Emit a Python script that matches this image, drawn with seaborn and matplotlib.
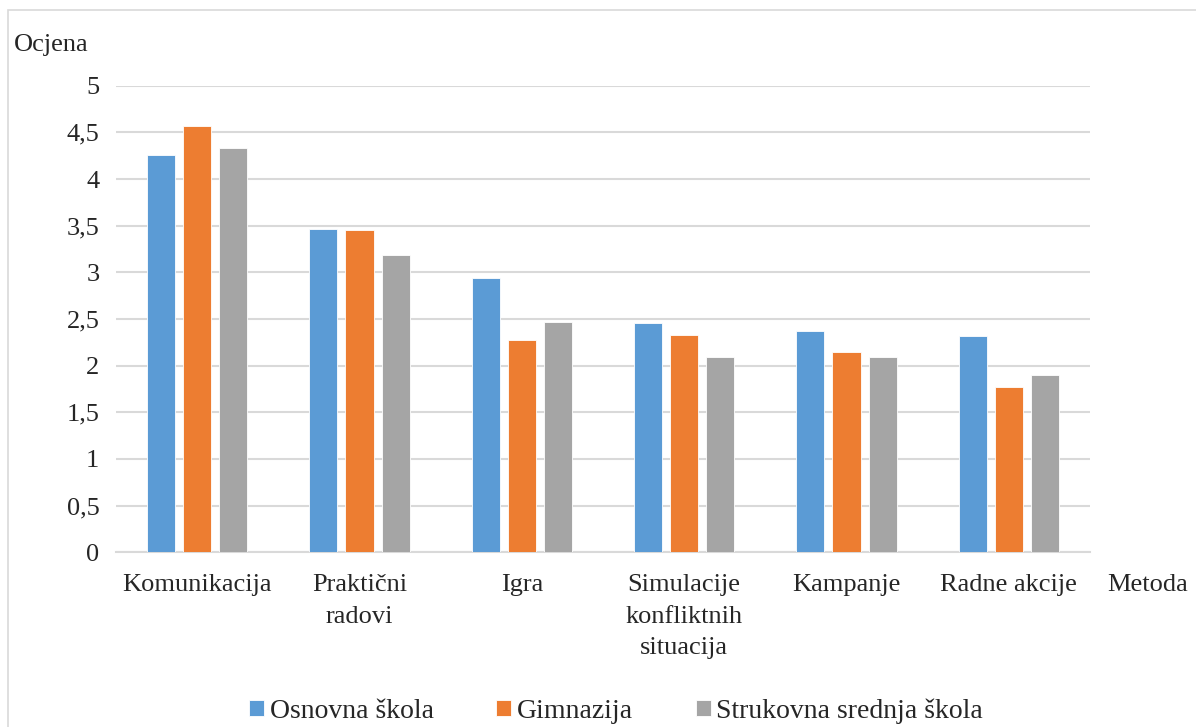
import matplotlib
matplotlib.use("Agg")
import matplotlib.pyplot as plt
import seaborn as sns
import pandas as pd
from matplotlib.patches import Rectangle

categories = ["Komunikacija", "Praktični\nradovi", "Igra", "Simulacije\nkonfliktnih\nsituacija", "Kampanje", "Radne akcije"]
series_names = ["Osnovna škola", "Gimnazija", "Strukovna srednja škola"]
osnovna = [4.26, 3.46, 2.94, 2.46, 2.37, 2.32]
gimnazija = [4.57, 3.45, 2.27, 2.33, 2.15, 1.77]
strukovna = [4.33, 3.19, 2.47, 2.09, 2.09, 1.90]
yticks = [0, 0.5, 1, 1.5, 2, 2.5, 3, 3.5, 4, 4.5, 5]
ytick_labels = ["0", "0,5", "1", "1,5", "2", "2,5", "3", "3,5", "4", "4,5", "5"]
colors = ["#5B9BD5", "#ED7D31", "#A5A5A5"]

rows = []
for name, vals in zip(series_names, [osnovna, gimnazija, strukovna]):
    for c, v in zip(categories, vals):
        rows.append({"Metoda": c, "Ocjena": v, "Škola": name})
df = pd.DataFrame(rows)

sns.set_theme(style="white")
plt.rcParams["font.family"] = ["Liberation Serif", "DejaVu Serif"]

FS = 19

fig = plt.figure(figsize=(11.96, 7.27), dpi=100)
ax = fig.add_axes([116 / 1196, 1 - 552.3 / 727, (1090 - 116) / 1196, (552.3 - 85.7) / 727])

sns.barplot(data=df, x="Metoda", y="Ocjena", hue="Škola", order=categories,
            hue_order=series_names, palette=colors, saturation=1, width=0.667, gap=0.22,
            edgecolor="white", linewidth=0.6, ax=ax, legend=True, zorder=3)

ax.set_ylim(0, 5)
ax.set_xlim(-0.5, len(categories) - 0.5)
ax.set_yticks(yticks)
ax.set_yticklabels(ytick_labels, fontsize=FS)
ax.set_xticks(range(len(categories)))
ax.set_xticklabels([])
for i, lab in enumerate(categories):
    ax.text(i, -0.047, lab, transform=ax.get_xaxis_transform(), ha="center", va="top",
            fontsize=FS, linespacing=1.55, multialignment="center")
ax.tick_params(axis="y", length=0, pad=12)
ax.tick_params(axis="x", length=0)
ax.set_xlabel("")
ax.set_ylabel("")
ax.yaxis.grid(True, color="#d9d9d9", linewidth=1.5, zorder=0)
ax.set_axisbelow(True)
for s in ["left", "right", "top"]:
    ax.spines[s].set_visible(False)
ax.spines["bottom"].set_color("#d9d9d9")
ax.spines["bottom"].set_linewidth(1.5)

fig.text(14 / 1196, 1 - 45 / 727, "Ocjena", fontsize=FS, va="center", ha="left")
fig.text(1107 / 1196, 1 - 585 / 727, "Metoda", fontsize=FS, va="center", ha="left")

handles, labels = ax.get_legend_handles_labels()
ax.get_legend().remove()
fig.legend(handles, labels, loc="center", bbox_to_anchor=(616 / 1196, 1 - 711 / 727),
           ncol=3, frameon=False, fontsize=20, handlelength=0.55, handleheight=0.55,
           handletextpad=0.2, columnspacing=2.25)

fig.patches.append(Rectangle((8 / 1196, -0.1), 1.2, 1 - 10 / 727 + 0.1, transform=fig.transFigure,
                             fill=False, edgecolor="#d9d9d9", linewidth=1.2))

fig.savefig("out.png", dpi=100)
